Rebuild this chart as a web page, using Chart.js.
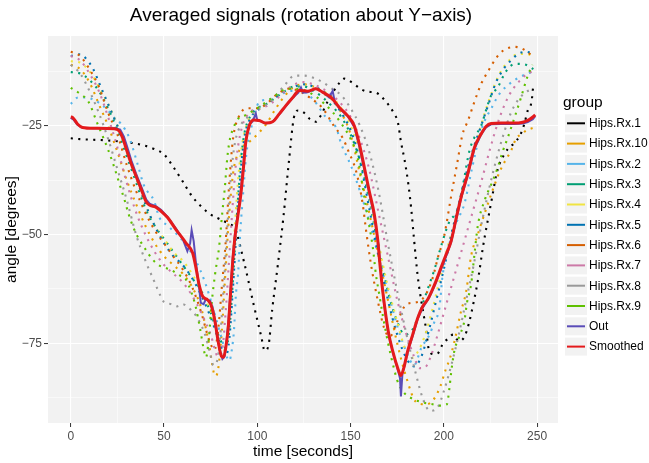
<!DOCTYPE html>
<html><head><meta charset="utf-8">
<script src="https://cdn.jsdelivr.net/npm/chart.js@4/dist/chart.umd.min.js"></script>
<style>html,body{margin:0;padding:0;background:#fff;}canvas{display:block;}</style>
</head><body>
<canvas id="c" width="649" height="463"></canvas>
<script>
// ---------------- data (time [s], angle [deg]) ----------------
const seriesNames = ["Hips.Rx.1","Hips.Rx.10","Hips.Rx.2","Hips.Rx.3","Hips.Rx.4","Hips.Rx.5","Hips.Rx.6","Hips.Rx.7","Hips.Rx.8","Hips.Rx.9","Out","Smoothed"];
const xTickValues = [0,50,100,150,200,250];
const yTickValues = [-75,-50,-25];

const rx1 = [[0,-27.9],[5,-28.1],[10,-28.2],[20,-28.4],[30,-28.8],[38,-29.4],[45,-30.4],[50,-31.6],[55,-34.5],[60,-37.8],[65,-41.2],[70,-43.6],[75,-45.4],[80,-46.5],[85,-47.6],[88,-48.6],[93,-56.5],[98,-66],[102,-73.2],[104,-76.7],[106,-75.5],[108,-67.2],[111,-57],[114,-46],[117,-33],[119.6,-23.2],[122,-21.5],[125,-22],[128,-23.4],[131.5,-24.1],[134,-22.7],[138,-19.2],[143.8,-15.3],[146.5,-14.2],[149,-14.6],[152.4,-15.6],[156,-16.7],[159.3,-17.2],[163.6,-17.4],[169,-19.5],[173.3,-22.2],[175.4,-24.3],[177,-28.7],[179,-33],[181,-38.5],[182.5,-44],[184,-51],[186,-59.6],[188,-65.5],[190.5,-71.8],[192,-76.5],[194.7,-77.5],[197,-77.2],[199,-75.5],[202,-74],[205,-73],[208,-74.5],[211,-73.5],[213.5,-70.3],[216,-65.5],[218.2,-60.7],[220.9,-53.1],[222,-50.3],[224.2,-45.3],[226.2,-40.7],[228,-36.5],[230,-33.6],[232,-31.9],[234.4,-30.3],[237.5,-29.1],[241,-27.1],[243,-24.8],[245,-21.5],[247,-19.5],[248,-15.5]];
const rx10 = [[0,-11],[5,-12],[10,-15],[15,-20],[20,-25],[25,-31],[30,-37.5],[35,-43],[40,-48],[45,-52],[50,-55],[55,-57],[60,-59],[65,-62],[70,-67],[74,-75],[77.5,-82.5],[79,-81],[81,-72],[83,-58],[85,-45],[87,-36],[90,-31],[95,-29],[100,-27],[105,-24.5],[110,-21],[115,-18],[120,-16],[125,-15.5],[130,-16],[135,-17.5],[140,-19],[145,-22],[150,-27],[155,-36],[160,-45],[165,-55],[170,-65],[175,-75],[180,-83],[185,-88.4],[190,-89],[194,-88.2],[198,-85],[201,-81],[203,-78.8],[206,-74],[209,-68],[212,-63],[214.6,-55],[218.2,-50],[222,-45],[226,-40],[230,-35.5],[233.4,-32.7],[236,-30.8],[238.7,-28],[241.4,-27],[244.6,-26],[248,-25.5]];
const rx2 = [[0,-20],[4,-18.5],[8,-18.5],[12,-19],[16,-20],[20,-21.5],[24,-23.5],[27,-24.6],[31.3,-27.7],[35.8,-33.8],[39.3,-38.8],[44.7,-42.3],[47.4,-46],[52,-48],[57,-50],[62,-52.5],[67,-56],[72,-61],[77,-68],[81,-74],[85,-79],[86.5,-76],[87.5,-72],[88.5,-64],[89.8,-58.4],[90.8,-50],[92.5,-40],[94,-32],[97,-25],[101,-19.6],[106,-19],[112,-18],[118,-17],[124,-17],[130,-19],[136.8,-23.1],[142.2,-25.4],[145,-29.2],[150,-34],[155,-40],[160,-47],[165,-55],[170,-63],[175,-71],[180,-77],[184,-80],[188,-76],[192.3,-73],[195,-70],[197.6,-66.9],[199.4,-59.2],[203.9,-50.7],[207,-47],[211,-43],[215,-35],[220,-26],[226.2,-20.4],[229.8,-17.7],[235.1,-15.4],[240,-14],[245,-13],[248,-12.5]];
const rx3 = [[0,-12.7],[5,-13],[10,-14.5],[15,-17],[20,-21],[25,-26],[30,-32],[35,-38],[40,-44],[45,-48],[50,-51],[55,-54],[60,-57],[65,-60],[70,-63],[75,-68],[80,-74],[83,-76],[85,-72],[87,-60],[89,-46],[91,-34],[93,-27],[96,-23],[100,-21],[105,-20],[110,-18.5],[115,-17],[120,-16],[125,-16],[130,-17],[135,-18.5],[140,-20.5],[145,-23],[150,-27],[155,-33],[160,-42],[165,-53],[170,-63],[175,-70],[179,-73],[183,-72],[187,-68],[191,-63],[195,-58],[199,-52],[203,-47],[207,-44.6],[210,-39.2],[213.7,-30.8],[216.4,-27.7],[220,-25],[222.6,-21.5],[225.3,-18.1],[228.9,-16.2],[232.5,-13.1],[236,-11.2],[239.6,-10.8],[244,-11],[248,-12]];
const rx4 = [[0,-10.2],[5,-10.5],[10,-12.5],[15,-16],[20,-20],[25,-25],[30,-31],[35,-37],[40,-43],[45,-48],[50,-51],[55,-54],[60,-56],[65,-59],[70,-63],[75,-68],[79,-74],[82,-77],[84,-73],[86,-62],[88,-48],[90,-36],[92,-29],[95,-24],[100,-21.5],[105,-20],[110,-18.5],[115,-17],[120,-16],[125,-15.5],[130,-16],[135,-17],[140,-18.5],[145,-21],[150,-25],[155,-31],[160,-41],[165,-52],[170,-62],[175,-70],[179,-76],[182.4,-78.4],[186,-77],[190,-73],[194,-67],[198,-60],[202,-53],[206,-47],[210,-40],[214,-34],[218,-28],[222,-22],[226,-17],[230,-13],[235,-10],[240,-8.5],[244,-8.5],[248,-9]];
const rx5 = [[0,-9],[5,-8.6],[8,-9.5],[12,-12],[16,-16],[20,-20],[24,-24],[28,-28],[32,-33],[36,-38],[40,-43],[45,-48],[50,-52],[55,-55],[60,-57],[65,-60],[70,-64],[75,-69],[80,-75],[83,-78],[85,-74],[87,-62],[89,-48],[91,-36],[93,-28],[96,-23.5],[100,-21.5],[105,-20],[110,-18.5],[115,-17],[120,-16],[125,-15.5],[130,-16],[135,-17],[140,-19],[145,-22],[150,-26],[155,-33],[160,-44],[165,-55],[170,-65],[175,-73],[180,-78.5],[184,-80.3],[188,-78],[192,-72],[196,-65],[200,-58],[204,-50],[208,-43],[212,-36],[216,-30],[220,-25],[224,-20],[228,-15],[232,-12],[236,-10],[240,-8.5],[244,-8],[248,-8.5]];
const rx6 = [[0,-8],[5,-9],[10,-12],[15,-16],[20,-22],[25,-27],[30,-34],[35,-40],[40,-45],[45,-49],[50,-52],[55,-55],[60,-58],[65,-62],[70,-68],[74,-74],[77,-76.5],[79,-72],[81,-62],[83,-52],[85,-38],[87,-28],[90,-23],[95,-21],[100,-21],[105,-20],[110,-18],[117,-16.5],[122,-17],[128,-18.5],[135,-21],[141,-25],[146,-28],[149,-31],[153,-35.5],[156.5,-43],[158.3,-49],[161,-57],[164.5,-65],[168,-71.5],[171,-73.5],[175,-70],[180,-66],[186,-65.5],[190,-64],[194,-60],[197,-55],[200,-50.7],[204,-41],[207,-34],[210,-27],[213,-23.8],[216,-20],[220,-15.4],[224,-12.3],[228,-9.5],[232,-7.7],[238,-6.9],[242,-7.3],[246,-8.5],[248,-9.5]];
const rx7 = [[0,-9],[5,-10],[10,-13],[15,-17],[20,-23],[25,-30],[28,-35],[32,-41],[36,-46],[40,-50],[45,-54],[50,-57],[55,-59],[60,-61],[65,-64],[70,-68],[75,-73],[79,-78],[81,-77],[83,-68],[85,-55],[87,-42],[89,-32],[92,-25],[96,-22],[100,-21],[105,-20.5],[110,-19],[115,-17],[120,-15.5],[125,-15],[130,-15.5],[135,-16.5],[140,-18],[145,-20],[150,-23],[155,-28],[160,-35],[165,-45],[170,-55],[175,-65],[180,-73],[184,-78],[187,-80.7],[190,-80.5],[193,-78],[196,-74],[200,-68],[204,-62],[208,-56],[212,-50],[216,-44],[220,-38],[225,-30],[230,-23],[235,-18],[240,-15],[245,-13],[248,-12.5]];
const rx8 = [[0,-11],[5,-13],[10,-17],[15,-22],[20,-28],[25,-35],[30,-42],[35,-50],[40,-56],[45,-61],[48,-64],[50,-65.5],[54,-66],[57,-66.5],[60,-66],[63,-66.8],[66,-68],[69,-70],[72,-73],[74.5,-77],[76.5,-80],[78.5,-79],[80,-74],[82,-62],[84,-48],[86,-36],[88,-29],[91,-25],[95,-23],[100,-21.5],[105,-20],[110,-18],[115,-15.5],[120,-13.5],[125,-13.5],[130,-14],[135,-15],[140,-16.5],[145,-18],[150,-21],[155,-25],[160,-31],[165,-40],[170,-52],[175,-63],[180,-73],[185,-82],[189,-88],[192.6,-90.5],[196.7,-89.7],[200,-86],[204,-80],[208,-73],[212,-65],[216,-57],[220,-48],[224,-40],[228,-33],[232,-27],[236,-22],[240,-19],[244,-17.3],[247.7,-16.5]];
const rx9 = [[0,-16.3],[5,-17.7],[9.5,-19.5],[14,-24.2],[17,-27.3],[20,-30.5],[22.5,-33.5],[25,-36.8],[27,-39.6],[29,-42.3],[31,-45.3],[33.6,-48.4],[35.5,-50.2],[39.3,-52.9],[43.8,-55.7],[47,-57],[50.4,-57.6],[54,-58.2],[58,-59.3],[61.7,-60.3],[64.4,-63],[66.7,-66.1],[69.4,-71.8],[71.2,-76.2],[72.5,-78.2],[74,-74],[75.5,-66],[77.3,-59.3],[79.6,-52.6],[81,-46],[82.6,-39.2],[84,-32],[85.5,-27.7],[87,-25.8],[89,-23.8],[94,-22.5],[100,-21],[105,-19.5],[110.9,-17.7],[114,-16.8],[120,-16.5],[126,-17],[132,-18.5],[136,-20],[140.4,-21.9],[145,-24.5],[150,-28],[153.8,-32.3],[157.4,-41.5],[160,-48],[161.9,-52.9],[163.6,-59.2],[165.4,-63.8],[167.2,-68.4],[169.9,-74.5],[171.7,-78],[173.4,-81],[175,-83.5],[178,-86],[182.6,-87.6],[188,-88.5],[194,-89],[198,-89.3],[201.6,-89],[203,-85.3],[203.9,-81.8],[205.6,-76.8],[208.3,-73.4],[211,-69.9],[212.4,-65.7],[214.6,-61.5],[216.4,-54.6],[218.2,-48],[222,-42],[226.2,-37.7],[228.9,-34.6],[231.5,-31],[234.3,-27.7],[238,-23],[241.4,-18.5],[245,-13.5],[247.5,-11]];
const out = [[0,-23.2],[1.5,-23.6],[3.6,-24.8],[6.3,-25.5],[12.5,-25.6],[20,-25.6],[24,-25.6],[26.5,-25.9],[28.5,-27.5],[30,-29.5],[32.5,-33],[35,-36],[37.8,-39],[40.5,-42],[42.5,-43],[45.6,-43.5],[48.5,-44.4],[52,-46],[56.5,-48.7],[60,-51],[62.5,-53.8],[64,-52],[64.8,-49],[65.9,-51.5],[67.1,-56.5],[68.5,-61],[69.7,-65.7],[71.2,-66],[72.4,-64.9],[74.7,-65.3],[76.5,-67.5],[78,-72],[79.8,-76.5],[81.3,-78.6],[82.5,-78],[83.5,-74.5],[84.6,-69.5],[85.7,-62.5],[86.8,-55.5],[88,-50],[89.6,-45.5],[91.1,-40],[92.5,-34],[93.8,-28.5],[95.5,-24.8],[97.5,-24],[99.2,-22.2],[100,-23.8],[102,-24],[104.6,-24.5],[108,-24.2],[111.8,-22.4],[115.3,-20.5],[119,-18.6],[122,-17.4],[123.4,-16.2],[124.5,-17.4],[127,-17.3],[131.4,-16.5],[134,-17],[136,-17.6],[138.5,-18.5],[140.4,-17],[141.5,-19.5],[144,-21],[148.4,-22.8],[152,-25.3],[154.7,-29.8],[157.4,-35],[160,-40.5],[162.7,-45.8],[165,-52.5],[167.8,-65.5],[170.2,-72.5],[172.6,-77],[175.3,-81],[176.5,-83],[177,-87.2],[177.8,-82],[178.7,-80.5],[180.6,-77],[183.3,-73.3],[186,-69.4],[188.7,-66.8],[191.4,-65],[193.1,-63.6],[195.8,-61],[198.5,-58],[201.2,-55],[203.9,-51.8],[206.5,-46.8],[209.2,-41.8],[212.8,-36.4],[216.4,-30.3],[220,-27],[222.6,-25.4],[225.3,-24.7],[230.7,-24.6],[237.8,-24.6],[242.3,-24.5],[245,-24.2],[247.7,-23.5],[249,-22.8]];
const smoothed = [[0,-23],[1,-23.1],[3.6,-24.6],[6.3,-25.4],[12.5,-25.6],[23.2,-25.7],[25.9,-26.2],[27.7,-27.7],[29.5,-30],[32.2,-33.5],[34.9,-36.5],[37.6,-39.4],[40.2,-42.3],[42,-43.2],[45.6,-43.7],[48.3,-44.6],[51.9,-46.1],[56.3,-48.8],[61.7,-51.9],[65.3,-54.2],[67.1,-57.6],[68.8,-61.5],[70.7,-64.2],[73.3,-65],[75.1,-66.1],[77.3,-69.9],[79,-74.5],[80.8,-78],[81.9,-78.2],[83.2,-75.7],[84.4,-71.5],[85.5,-64.6],[86.7,-56.9],[88,-50.7],[89.5,-46],[91.2,-40.7],[92.6,-34.6],[93.9,-28.5],[95.7,-25],[98,-23.7],[101,-23.8],[104.6,-24.4],[108.2,-24.1],[111.8,-22.3],[115.3,-20.4],[118.9,-18.6],[122.5,-16.9],[127,-17.1],[131.4,-16.5],[135,-17.3],[139.5,-18.5],[144,-20.8],[148.4,-22.7],[152,-25],[154.7,-29.2],[157.4,-34.6],[160,-40],[162.7,-45.3],[164.5,-51],[166,-58],[167.8,-65],[170.2,-72.2],[172.6,-76.8],[175.3,-80.7],[177,-82.4],[178.5,-80.7],[180.6,-76.8],[183.3,-73],[186,-69.2],[188.7,-66.5],[191.4,-64.9],[193.1,-63.4],[195.8,-60.7],[198.5,-57.6],[201.2,-54.6],[203.9,-51.5],[206.5,-46.5],[209.2,-41.5],[212.8,-36.1],[216.4,-30],[220,-26.9],[222.6,-25.2],[225.3,-24.5],[230.7,-24.4],[237.8,-24.4],[242.3,-24.2],[245,-23.8],[247.7,-23],[249,-22.5]];

const seriesData = [rx1, rx10, rx2, rx3, rx4, rx5, rx6, rx7, rx8, rx9, out, smoothed];
const colors = ["#000000","#E69F00","#56B4E9","#009E73","#F0E442","#0072B2","#D55E00","#CC79A7","#999999","#5FC000","#5A4CB8","#E41A1C"];

// ---------------- chart ----------------
const FONT = "'Liberation Sans', Arial, Helvetica, sans-serif";
const PANEL = {left:48, right:558, top:36, bottom:423};
const panelColor = "#F2F2F2";

const datasets = seriesData.map((d, i) => {
  const isOut = i === 10, isSm = i === 11;
  return {
    label: seriesNames[i],
    data: d.map(p => ({x: p[0], y: p[1]})),
    borderColor: colors[i],
    backgroundColor: colors[i],
    borderWidth: isSm ? 3 : (isOut ? 2 : 2.1),
    borderDash: (isOut || isSm) ? [] : [2.1, 5.4],
    borderCapStyle: 'butt',
    pointRadius: 0,
    fill: false,
    tension: isOut ? 0 : 0.35,
    cubicInterpolationMode: isOut ? 'default' : 'monotone',
    order: seriesData.length - i
  };
});

function isMajorX(v){ return xTickValues.includes(v); }
function isMajorY(v){ return yTickValues.includes(v); }

const decor = {
  id: 'decor',
  beforeDraw(chart){
    const {ctx, chartArea:a} = chart;
    ctx.save();
    ctx.fillStyle = panelColor;
    ctx.fillRect(a.left, a.top, a.right - a.left, a.bottom - a.top);
    ctx.restore();
  },
  afterDraw(chart){
    const {ctx, chartArea:a} = chart;
    ctx.save();
    ctx.fillStyle = '#000';
    // title
    ctx.font = `19px ${FONT}`;
    ctx.textAlign = 'center'; ctx.textBaseline = 'middle';
    ctx.fillText('Averaged signals (rotation about Y\u2212axis)', 301, 16);
    // axis titles
    ctx.font = `15.5px ${FONT}`;
    ctx.fillText('time [seconds]', 303, 452);
    ctx.save();
    ctx.translate(12, (a.top + a.bottom)/2);
    ctx.rotate(-Math.PI/2);
    ctx.fillText('angle [degrees]', 0, 0);
    ctx.restore();
    // legend
    ctx.textAlign = 'left';
    ctx.font = `15.5px ${FONT}`;
    ctx.fillText('group', 563, 103);
    ctx.font = `12px ${FONT}`;
    chart.data.datasets.forEach((ds, i) => {
      const y = 123.3 + i * 20.3;
      ctx.fillStyle = '#F2F2F2';
      ctx.fillRect(565, y - 9, 22, 18);
      ctx.strokeStyle = ds.borderColor;
      ctx.lineWidth = 2;
      ctx.setLineDash([]);
      ctx.beginPath(); ctx.moveTo(567, y); ctx.lineTo(585, y); ctx.stroke();
      ctx.fillStyle = '#000';
      ctx.fillText(ds.label, 589, y + 0.5);
    });
    ctx.restore();
  }
};

new Chart(document.getElementById('c'), {
  type: 'line',
  data: { datasets },
  options: {
    responsive: false,
    animation: false,
    devicePixelRatio: 1,
    layout: { padding: { left: 0, top: PANEL.top, right: 649 - PANEL.right, bottom: 0 } },
    plugins: { legend: { display: false }, title: { display: false }, tooltip: { enabled: false } },
    scales: {
      x: {
        type: 'linear', min: -12.2, max: 261.2,
        afterFit(s){ s.height = 463 - PANEL.bottom; },
        afterBuildTicks(s){ s.ticks = [0,25,50,75,100,125,150,175,200,225,250].map(v => ({value: v})); },
        border: { display: false },
        grid: {
          color: '#FFFFFF',
          lineWidth: c => (c.tick && isMajorX(c.tick.value)) ? 1.1 : 0.55,
          tickColor: c => (c.tick && isMajorX(c.tick.value)) ? '#333333' : 'rgba(0,0,0,0)',
          tickLength: 4, tickWidth: 1
        },
        ticks: {
          autoSkip: false, maxRotation: 0, padding: 2,
          color: '#4D4D4D', font: { family: FONT, size: 12 },
          callback: v => isMajorX(v) ? String(v) : ''
        }
      },
      y: {
        type: 'linear', min: -93.3, max: -4.4,
        afterFit(s){ s.width = PANEL.left; },
        afterBuildTicks(s){ s.ticks = [-87.5,-75,-62.5,-50,-37.5,-25,-12.5].map(v => ({value: v})); },
        border: { display: false },
        grid: {
          color: '#FFFFFF',
          lineWidth: c => (c.tick && isMajorY(c.tick.value)) ? 1.1 : 0.55,
          tickColor: c => (c.tick && isMajorY(c.tick.value)) ? '#333333' : 'rgba(0,0,0,0)',
          tickLength: 4, tickWidth: 1
        },
        ticks: {
          autoSkip: false, padding: 2,
          color: '#4D4D4D', font: { family: FONT, size: 12 },
          callback: v => isMajorY(v) ? String(v).replace('-', '\u2212') : ''
        }
      }
    }
  },
  plugins: [decor]
});
</script>
</body></html>
